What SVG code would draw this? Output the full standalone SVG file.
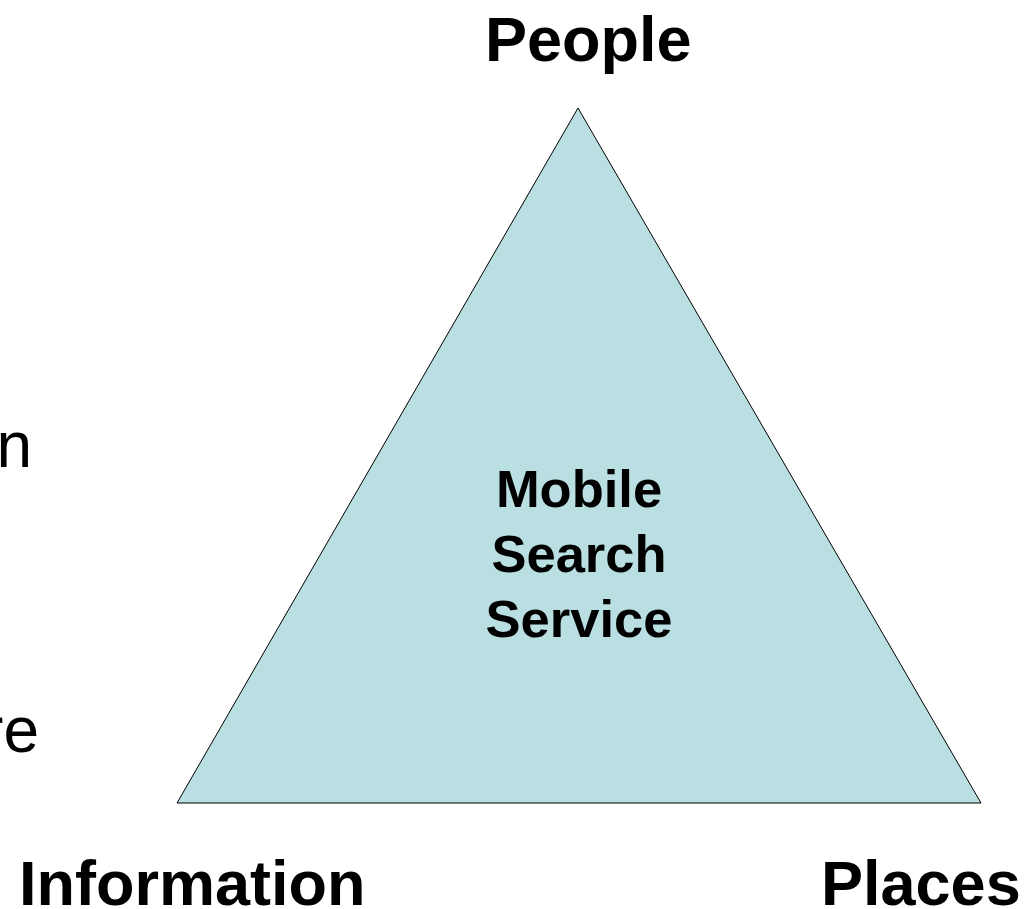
<svg xmlns="http://www.w3.org/2000/svg" width="1034" height="909" viewBox="0 0 1034 909">
<style>
.lbl{font-family:"Liberation Sans",Arial,sans-serif;font-weight:bold;font-size:63px;fill:#000}
.ctr{font-family:"Liberation Sans",Arial,sans-serif;font-weight:bold;font-size:52.5px;fill:#000;text-anchor:middle}
.side{font-family:"Liberation Sans",Arial,sans-serif;font-size:64px;fill:#000;text-anchor:end}
</style>
<rect width="1034" height="909" fill="#fff"/>
<g id="triangle">
<polygon points="578,108 177,803 981,803" fill="#BADFE2" stroke="#000" stroke-width="1"/>
<text class="ctr" x="579" y="507">Mobile</text>
<text class="ctr" x="579" y="572">Search</text>
<text class="ctr" x="579" y="637">Service</text>
</g>
<g id="people"><text class="lbl" x="485" y="61">People</text></g>
<g id="information"><text class="lbl" x="19" y="905">Information</text></g>
<g id="places"><text class="lbl" x="821" y="905">Places</text></g>
<g id="left-cut">
<text class="side" x="32" y="467">n</text>
<text class="side" x="39" y="752">re</text>
</g>
<g id="connectors"></g>
</svg>
